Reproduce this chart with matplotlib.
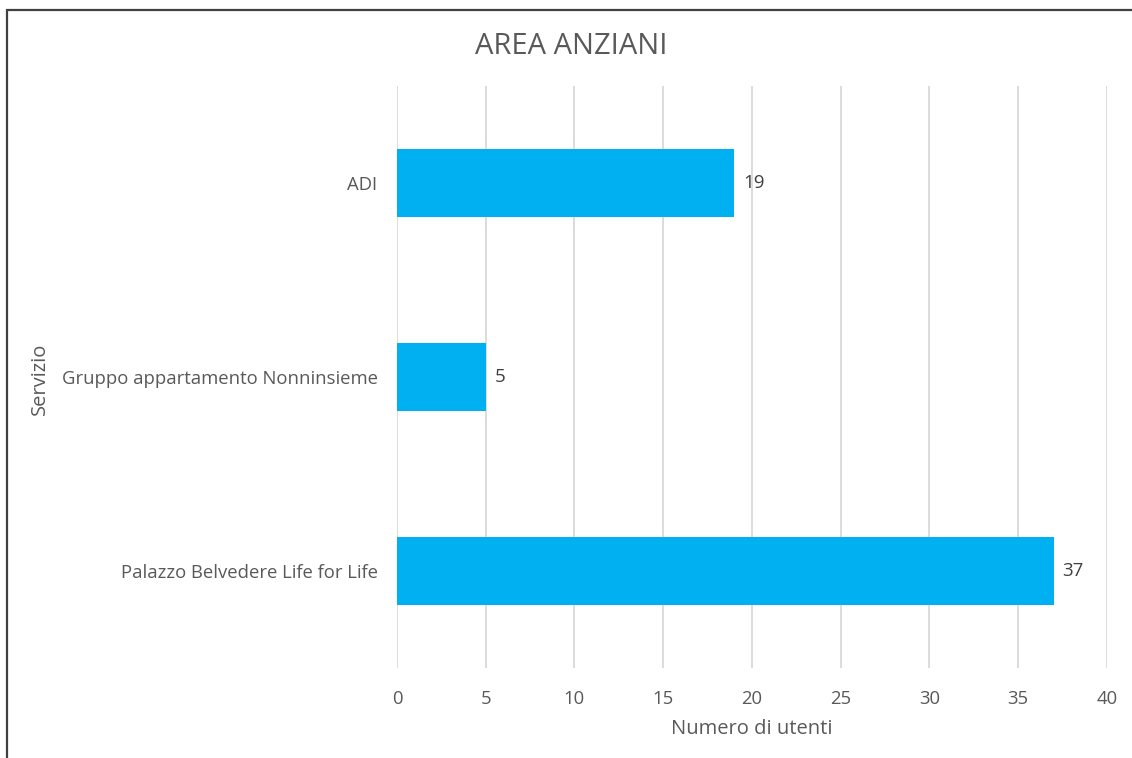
import matplotlib.pyplot as plt
from matplotlib.patches import Rectangle

services = ['ADI', 'Gruppo appartamento Nonninsieme', 'Palazzo Belvedere Life for Life']
users = [19, 5, 37]
x_ticks = [0, 5, 10, 15, 20, 25, 30, 35, 40]

plt.rcParams['font.family'] = ['Open Sans', 'DejaVu Sans']
text_col = '#595959'

fig = plt.figure(figsize=(11.32, 7.58), dpi=100)
ax = fig.add_axes([0.3507, 0.1187, 0.6272, 0.7678])

pos = list(range(len(services)))
ax.barh(pos, users, height=0.35, color='#00b0f0', zorder=3)
for p, v in zip(pos, users):
    ax.text(v + 0.5, p, str(v), va='center', ha='left', fontsize=13.5, color='#404040')

ax.set_ylim(2.5, -0.5)
ax.set_xlim(0, 40)
ax.set_yticks(pos)
ax.set_yticklabels(services)
ax.set_xticks(x_ticks)
ax.tick_params(length=0, labelsize=13.3, colors=text_col)
ax.tick_params(axis='y', pad=14)
ax.tick_params(axis='x', pad=16)
ax.grid(axis='x', color='#d9d9d9', linewidth=1.3, zorder=0)
for s in ax.spines.values():
    s.set_visible(False)

ax.set_xlabel('Numero di utenti', fontsize=14.5, color=text_col, labelpad=8)
fig.text(40 / 1132, 0.5, 'Servizio', rotation=90, ha='center', va='center',
         fontsize=14.5, color=text_col)
fig.text(0.505, 0.938, 'AREA ANZIANI', ha='center', va='center', fontsize=21, color=text_col)

# outer frame, cut off on the right and bottom
fig.patches.append(Rectangle((7 / 1132, -0.1), 1.2, 1.1 - 10 / 758, transform=fig.transFigure,
                             fill=False, edgecolor='#404040', linewidth=1.6))

fig.savefig('out.png', dpi=100)
